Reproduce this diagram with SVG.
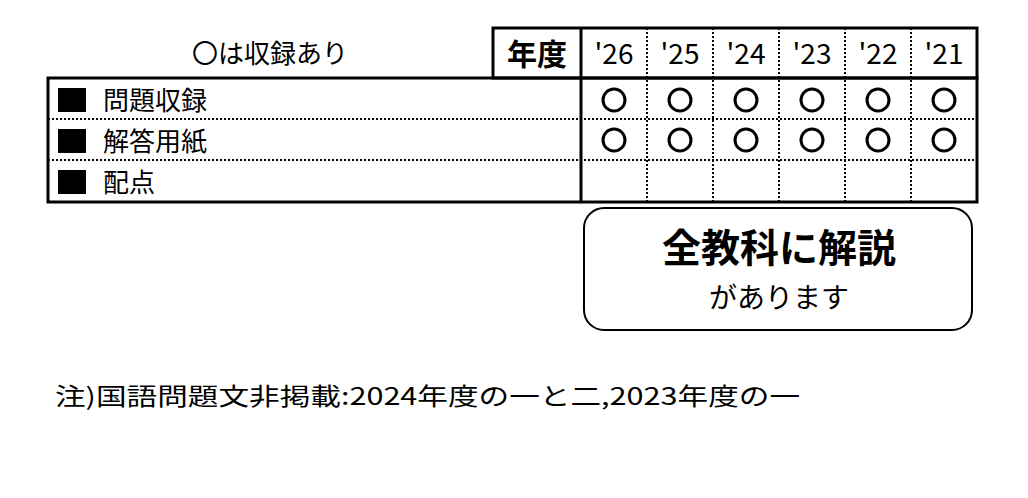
<svg xmlns="http://www.w3.org/2000/svg" width="1028" height="498" viewBox="0 0 1028 498">
<style>
text{font-family:"Noto Sans CJK JP","Liberation Sans",sans-serif;fill:#000}
.thick{stroke:#000;stroke-width:3;fill:none}
.dot{stroke:#000;stroke-width:2;stroke-dasharray:2 2;fill:none}
.c{stroke:#000;stroke-width:3;fill:none}
.yr{font-size:28px;text-anchor:middle}
.lab{font-size:26px}
</style>
<rect width="1028" height="498" fill="#fff"/>
<g id="legend"><text x="270" y="63" font-size="26" text-anchor="middle">〇は収録あり</text></g>
<g id="table">
<rect class="thick" x="493" y="28" width="484" height="50"/>
<rect class="thick" x="48" y="78" width="929" height="124"/>
<line class="thick" x1="581" y1="28" x2="581" y2="202"/>
<g class="dot">
<line x1="647" y1="28" x2="647" y2="202"/><line x1="713" y1="28" x2="713" y2="202"/>
<line x1="779" y1="28" x2="779" y2="202"/><line x1="845" y1="28" x2="845" y2="202"/>
<line x1="911" y1="28" x2="911" y2="202"/>
<line x1="48" y1="119" x2="977" y2="119"/><line x1="48" y1="160" x2="977" y2="160"/>
</g>
<text x="537" y="65" font-size="30" font-weight="bold" text-anchor="middle">年度</text>
<text class="yr" x="614" y="64">'26</text><text class="yr" x="680" y="64">'25</text>
<text class="yr" x="746" y="64">'24</text><text class="yr" x="812" y="64">'23</text>
<text class="yr" x="878" y="64">'22</text><text class="yr" x="944" y="64">'21</text>
<rect x="58" y="88" width="28" height="24"/><text class="lab" x="103" y="110">問題収録</text>
<rect x="58" y="129" width="28" height="24"/><text class="lab" x="103" y="151">解答用紙</text>
<rect x="58" y="170" width="28" height="24"/><text class="lab" x="103" y="192">配点</text>
<g class="c">
<circle cx="614" cy="100" r="11"/><circle cx="680" cy="100" r="11"/><circle cx="746" cy="100" r="11"/>
<circle cx="812" cy="100" r="11"/><circle cx="878" cy="100" r="11"/><circle cx="944" cy="100" r="11"/>
<circle cx="614" cy="140" r="11"/><circle cx="680" cy="140" r="11"/><circle cx="746" cy="140" r="11"/>
<circle cx="812" cy="140" r="11"/><circle cx="878" cy="140" r="11"/><circle cx="944" cy="140" r="11"/>
</g>
</g>
<g id="note-box">
<rect x="584" y="208" width="388" height="122" rx="20" fill="none" stroke="#000" stroke-width="2"/>
<text x="779" y="262" font-size="39" font-weight="bold" text-anchor="middle">全教科に解説</text>
<text x="779" y="308" font-size="28" text-anchor="middle">があります</text>
</g>
<g id="footnote"><text x="55" y="405" font-size="24" textLength="745" lengthAdjust="spacingAndGlyphs">注)国語問題文非掲載:2024年度の一と二,2023年度の一</text></g>
</svg>
